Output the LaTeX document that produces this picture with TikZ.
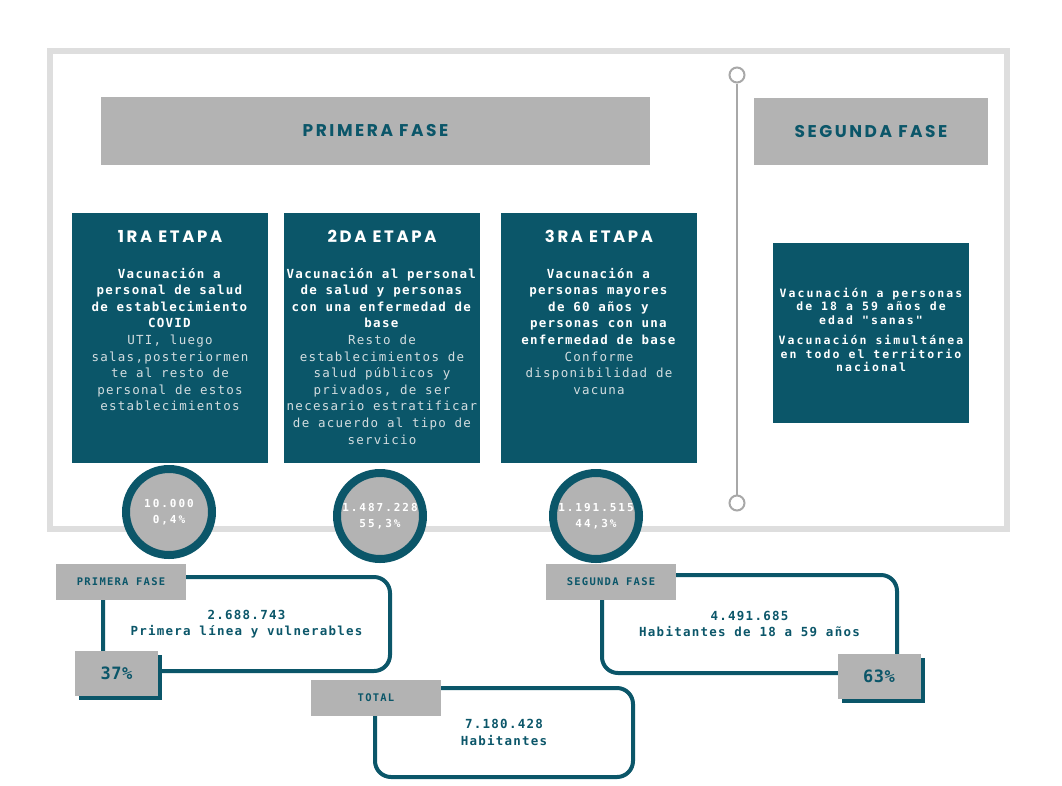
\documentclass[tikz,border=0pt]{standalone}
\usepackage{fontspec}
\usetikzlibrary{positioning,shadows}

\definecolor{tealbox}{HTML}{0B5669}
\definecolor{grisbox}{HTML}{B3B3B3}
\definecolor{grismarco}{HTML}{DEDEDE}
\definecolor{grislinea}{HTML}{A8A8A8}
\definecolor{textoclaro}{HTML}{D3DDE0}

\newfontfamily\textofuente[LetterSpace=10]{DejaVu Sans Mono}
\newfontfamily\anchofuente[LetterSpace=18]{DejaVu Sans Mono}
\newfontfamily\etiquetafuente[LetterSpace=12]{DejaVu Sans Mono}
\newfontfamily\porcentajefuente[LetterSpace=3]{DejaVu Sans Mono}
\newfontfamily\titulofuente[LetterSpace=16]{Poppins}
\newfontfamily\fasefuente[LetterSpace=15]{Poppins}

% lineas del cuerpo
\newcommand\negrita[1]{\textbf{#1}}
\newcommand\claro[1]{\textcolor{textoclaro}{#1}}

\begin{document}
\begin{tikzpicture}[x=1pt,y=-1pt,
  etapa/.style={rectangle, fill=tealbox, minimum width=196pt, minimum height=250pt, inner sep=0pt},
  fase/.style={rectangle, fill=grisbox, inner sep=0pt, text=tealbox, font=\fasefuente\bfseries\fontsize{17}{19}\selectfont},
  titulo/.style={text=white, inner sep=0pt, font=\titulofuente\bfseries\fontsize{16.5}{18}\selectfont},
  cuerpo/.style={text=white, align=center, inner sep=0pt, font=\textofuente\fontsize{12.5}{16.6}\selectfont},
  cifra/.style={circle, draw=tealbox, line width=8pt, fill=grisbox, minimum size=86pt, inner sep=0pt, text=white, align=center, font=\anchofuente\bfseries\fontsize{11}{15.5}\selectfont},
  marco/.style={rectangle, draw=tealbox, line width=4pt, rounded corners=16pt, align=center, text=tealbox, font=\textofuente\bfseries\fontsize{12.5}{16.5}\selectfont},
  etiqueta/.style={rectangle, fill=grisbox, minimum width=130pt, minimum height=36pt, inner sep=0pt, text=tealbox, font=\etiquetafuente\bfseries\fontsize{10.5}{12}\selectfont},
  porcentaje/.style={rectangle, fill=grisbox, minimum width=83pt, minimum height=45pt, inner sep=0pt, text=tealbox, font=\porcentajefuente\bfseries\fontsize{17}{19}\selectfont, general shadow={fill=tealbox, shadow xshift=4pt, shadow yshift=-4pt}},
  hito/.style={circle, draw=grislinea, line width=2pt, fill=white, minimum size=15pt, inner sep=0pt}
]
  \useasboundingbox (0,0) rectangle (1062,785);

  % marco exterior
  \draw[grismarco, line width=6pt] (50,51) rectangle (1007,529);

  % linea de tiempo
  \node[hito] (h1) at (737,75) {};
  \node[hito] (h2) at (737,503) {};
  \draw[grislinea, line width=2pt] (h1) -- (h2);

  % fases
  \node[fase, minimum width=549pt, minimum height=68pt] (fase1) at (375.5,131) {PRIMERA FASE};
  \node[fase, minimum width=234pt, minimum height=67pt] (fase2) at (871,131.5) {SEGUNDA FASE};

  %---- ETAPAS ----
  \node[etapa] (e1) at (170,338) {};
  \node[etapa] (e2) at (382,338) {};
  \node[etapa] (e3) at (599,338) {};

  \node[titulo] (t1) at ([yshift=-24pt]e1.north) {1RA ETAPA};
  \node[titulo] (t2) at ([yshift=-24pt]e2.north) {2DA ETAPA};
  \node[titulo] (t3) at ([yshift=-24pt]e3.north) {3RA ETAPA};

  \node[cuerpo, anchor=north] (c1) at ([yshift=-55pt]e1.north) {\negrita{Vacunación a}\\\negrita{personal de salud}\\\negrita{de establecimiento}\\\negrita{COVID}\\
    \claro{UTI, luego}\\\claro{salas,posteriormen}\\\claro{te al resto de}\\\claro{personal de estos}\\\claro{establecimientos}};
  \node[cuerpo, anchor=north] (c2) at ([yshift=-55pt]e2.north) {\negrita{Vacunación al personal}\\\negrita{de salud y personas}\\\negrita{con una enfermedad de}\\\negrita{base}\\
    \claro{Resto de}\\\claro{establecimientos de}\\\claro{salud públicos y}\\\claro{privados, de ser}\\\claro{necesario estratificar}\\\claro{de acuerdo al tipo de}\\\claro{servicio}};
  \node[cuerpo, anchor=north] (c3) at ([yshift=-55pt]e3.north) {\negrita{Vacunación a}\\\negrita{personas mayores}\\\negrita{de 60 años y}\\\negrita{personas con una}\\\negrita{enfermedad de base}\\
    \claro{Conforme}\\\claro{disponibilidad de}\\\claro{vacuna}};

  % segunda fase
  \node[etapa, minimum height=180pt] (e4) at (871,333) {};
  \node[cuerpo, font=\anchofuente\bfseries\fontsize{11.5}{13.5}\selectfont] (c4) at ([yshift=3pt]e4.center)
    {Vacunación a personas\\de 18 a 59 años de\\edad "sanas"\\[7pt]Vacunación simultánea\\en todo el territorio\\nacional};

  % cifras por etapa
  \node[cifra] (n1) at (169,512) {10.000\\0,4\%};
  \node[cifra] (n2) at (380,516) {1.487.228\\55,3\%};
  \node[cifra] (n3) at (596,516) {1.191.515\\44,3\%};

  %---- RESUMEN ----
  \node[marco, minimum width=287pt, minimum height=94pt] (f1) at (246.5,624) {2.688.743\\Primera línea y vulnerables};
  \node[marco, minimum width=295pt, minimum height=98pt] (f2) at (749.5,624) {4.491.685\\Habitantes de 18 a 59 años};
  \node[marco, minimum width=258pt, minimum height=89pt] (f3) at (504,732.5) {7.180.428\\Habitantes};

  \node[etiqueta] (l1) at ([shift={(20pt,-7pt)}]f1.north west) {PRIMERA FASE};
  \node[etiqueta] (l2) at ([shift={(11pt,-9pt)}]f2.north west) {SEGUNDA FASE};
  \node[etiqueta] (l3) at ([shift={(3pt,-12pt)}]f3.north west) {TOTAL};

  \node[porcentaje] (p1) at ([xshift=15.5pt]f1.south west) {37\%};
  \node[porcentaje] (p2) at ([shift={(-20pt,-1.5pt)}]f2.south east) {63\%};

\end{tikzpicture}
\end{document}
